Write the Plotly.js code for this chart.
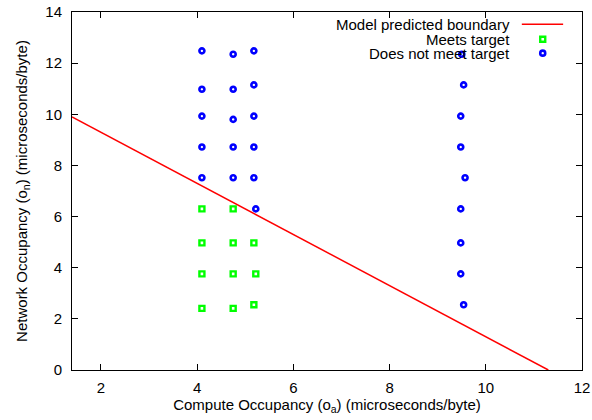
<!DOCTYPE html>
<html>
<head>
<meta charset="utf-8">
<script src="https://cdn.plot.ly/plotly-3.0.1.min.js"></script>
<style>html,body{margin:0;padding:0;background:#fff;}#chart{width:592px;height:420px;}</style>
</head>
<body>
<div id="chart"></div>
<script>
// Model predicted boundary
var boundaryX = [1.4, 11.3];
var boundaryY = [9.9, 0];

// Meets target
var meetsX = [4.10, 4.10, 4.10, 4.10, 4.75, 4.75, 4.75, 4.75, 5.18, 5.22, 5.18];
var meetsY = [6.30, 4.97, 3.76, 2.41, 6.30, 4.97, 3.76, 2.41, 4.97, 3.76, 2.55];

// Does not meet target
var missX = [4.10, 4.10, 4.10, 4.10, 4.10,
             4.75, 4.75, 4.75, 4.75, 4.75,
             5.18, 5.18, 5.18, 5.18, 5.18, 5.22,
             9.50, 9.54, 9.48, 9.48, 9.57, 9.48, 9.48, 9.48, 9.54];
var missY = [12.48, 10.98, 9.93, 8.72, 7.52,
             12.35, 10.98, 9.80, 8.72, 7.52,
             12.48, 11.15, 9.93, 8.72, 7.52, 6.30,
             12.35, 11.15, 9.93, 8.72, 7.52, 6.30, 4.97, 3.76, 2.55];

var legendNames = ['Model predicted boundary', 'Meets target', 'Does not meet target'];
var xTicks = [2, 4, 6, 8, 10, 12];
var yTicks = [0, 2, 4, 6, 8, 10, 12, 14];

var FONT = 'Liberation Sans, Arial, Helvetica, sans-serif';

var traces = [
  {x: boundaryX, y: boundaryY, mode: 'lines', type: 'scatter', name: legendNames[0],
   line: {color: '#ff0000', width: 1.5}, hoverinfo: 'skip'},
  {x: meetsX, y: meetsY, mode: 'markers', type: 'scatter', name: legendNames[1],
   marker: {symbol: 'square-open', size: 5, color: '#00ff00', line: {color: '#00ff00', width: 2.4}}},
  {x: missX, y: missY, mode: 'markers', type: 'scatter', name: legendNames[2],
   marker: {symbol: 'circle-open', size: 5, color: '#0000ff', line: {color: '#0000ff', width: 2.6}}}
];

var axisCommon = {
  showline: true, linecolor: '#000', linewidth: 1, mirror: 'allticks',
  ticks: 'inside', ticklen: 6, tickcolor: '#000', tickwidth: 1,
  showgrid: false, zeroline: false, tickfont: {family: FONT, size: 15, color: '#000'}
};

var legendTextX = 0.863;
var rowsY = [0.966, 0.924, 0.885];

var layout = {
  width: 592, height: 420,
  margin: {l: 72, r: 10, t: 12, b: 50},
  paper_bgcolor: '#fff', plot_bgcolor: '#fff',
  showlegend: false,
  font: {family: FONT, size: 15, color: '#000'},
  xaxis: Object.assign({}, axisCommon, {
    range: [1.4, 12], tickvals: xTicks, ticktext: xTicks.map(String), ticklabelstandoff: 4,
    title: {text: 'Compute Occupancy (o<sub>a</sub>) (microseconds/byte)', font: {family: FONT, size: 15}, standoff: 4}
  }),
  yaxis: Object.assign({}, axisCommon, {
    range: [0, 14], tickvals: yTicks, ticktext: yTicks.map(String), ticklabelstandoff: 6,
    title: {text: 'Network Occupancy (o<sub>n</sub>) (microseconds/byte)', font: {family: FONT, size: 15}, standoff: 14}
  }),
  annotations: legendNames.map(function(n, i) {
    return {xref: 'paper', yref: 'paper', x: legendTextX, y: rowsY[i], xanchor: 'right', yanchor: 'middle',
            text: n, showarrow: false, font: {family: FONT, size: 15, color: '#000'}};
  }),
  shapes: [
    {type: 'line', xref: 'paper', yref: 'paper', x0: 0.882, x1: 0.963, y0: rowsY[0], y1: rowsY[0],
     line: {color: '#ff0000', width: 1.5}},
    {type: 'rect', xref: 'paper', yref: 'paper', xsizemode: 'pixel', ysizemode: 'pixel',
     xanchor: 0.923, yanchor: rowsY[1], x0: -2.5, x1: 2.5, y0: -2.5, y1: 2.5,
     line: {color: '#00ff00', width: 2.4}},
    {type: 'circle', xref: 'paper', yref: 'paper', xsizemode: 'pixel', ysizemode: 'pixel',
     xanchor: 0.923, yanchor: rowsY[2], x0: -2.5, x1: 2.5, y0: -2.5, y1: 2.5,
     line: {color: '#0000ff', width: 2.6}}
  ]
};

Plotly.newPlot('chart', traces, layout, {displayModeBar: false, staticPlot: true});
</script>
</body>
</html>
